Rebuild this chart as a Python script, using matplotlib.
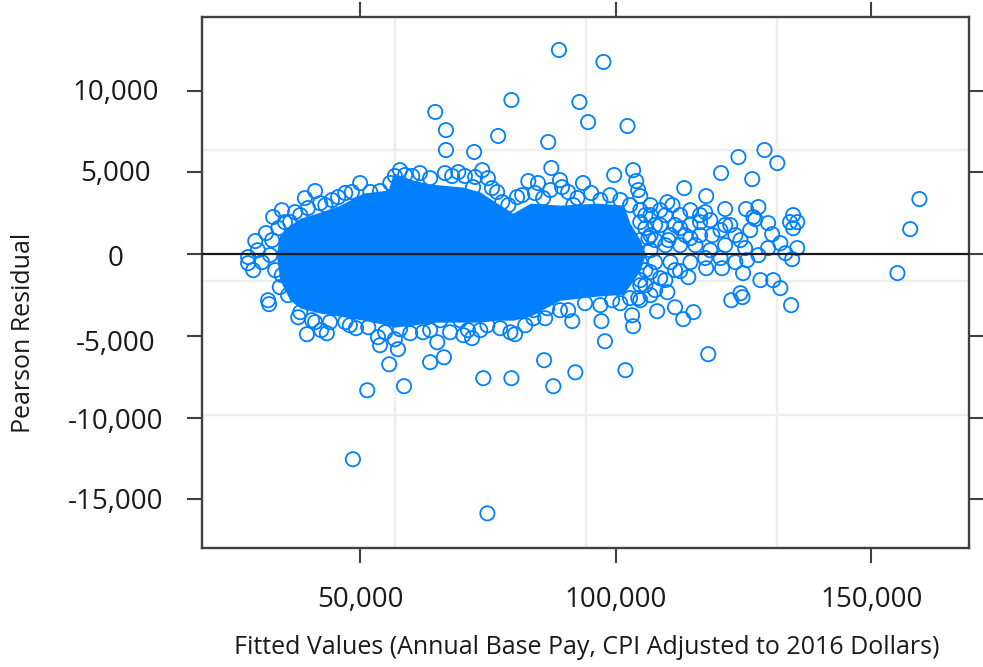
import matplotlib
matplotlib.use("Agg")
import matplotlib.pyplot as plt
from matplotlib.ticker import FixedLocator
from matplotlib.transforms import ScaledTranslation

# thousands of dollars
outlier_fitted = [88.9, 97.6, 79.6, 92.9, 94.6, 102.3, 64.7, 66.8, 66.8, 72.3, 77.0, 86.8, 87.4,
                  129.1, 124.0, 131.6, 120.6, 126.7, 117.7, 113.4, 159.4, 157.6, 155.1,
                  48.6, 74.9, 51.4, 58.6, 55.7, 74.1, 79.6, 86.0, 87.8, 92.1, 101.9, 63.7, 66.4, 118.1]
outlier_resid = [12.49, 11.76, 9.43, 9.31, 8.08, 7.84, 8.70, 7.59, 6.37, 6.25, 7.23, 6.86, 5.27,
                 6.37, 5.94, 5.57, 4.96, 4.59, 3.55, 4.04, 3.37, 1.53, -1.16,
                 -12.55, -15.86, -8.33, -8.08, -6.74, -7.59, -7.59, -6.49, -8.08, -7.23, -7.10, -6.61, -6.31, -6.12]

upper_fitted = [31.6, 33.0, 34.7, 36.3, 38.3, 39.2, 41.2, 43.2, 44.5, 47.1, 50.0, 53.9, 57.8, 58.8,
                61.7, 66.6, 69.2, 73.9, 72.5, 72.1, 75.8, 77.8, 80.7, 82.9, 84.8, 85.8, 89.5, 89.1,
                91.7, 93.6, 95.2, 98.9, 99.7, 103.4, 104.4, 104.0, 104.8,
                35.3, 37.3, 39.8, 42.2, 45.7, 48.4, 52.0, 55.9, 56.8, 60.2, 63.7, 68.0, 70.5, 75.0,
                76.8, 79.0, 81.7, 84.2, 87.2, 90.7, 92.5, 97.0, 100.9, 102.8, 104.8, 106.4]
upper_resid = [1.29, 2.27, 2.69, 1.96, 2.39, 3.43, 3.86, 3.00, 3.31, 3.74, 4.35, 3.86, 5.14, 4.84,
               4.96, 4.96, 5.02, 5.14, 4.72, 4.10, 4.04, 3.18, 3.49, 4.47, 4.35, 3.43, 4.10, 4.53,
               3.00, 4.35, 3.74, 3.61, 4.84, 5.14, 3.92, 4.47, 3.55,
               1.96, 2.57, 2.82, 3.12, 3.49, 3.80, 3.80, 4.35, 4.78, 4.78, 4.65, 4.78, 4.78, 4.65,
               3.80, 3.00, 3.61, 3.74, 3.92, 3.80, 3.43, 3.31, 3.31, 3.00, 1.96, 0.98]

left_fitted = [29.5, 29.1, 28.1, 28.1, 30.0, 30.8, 32.0, 32.2, 34.3, 32.8, 32.4, 33.4, 34.0]
left_resid = [0.80, -0.98, -0.55, -0.18, 0.24, -0.49, -2.82, -3.06, -2.02, 0.86, -0.06, -0.98, 1.59]

lower_fitted = [37.9, 39.6, 43.5, 42.4, 41.2, 49.2, 47.1, 53.5, 53.9, 56.8, 57.4, 57.8, 62.3, 65.1,
                65.7, 63.1, 71.9, 70.2, 71.1, 69.6, 74.9, 80.3, 79.4, 83.9, 83.9, 86.6, 90.7, 91.5,
                97.2, 97.9, 103.4, 103.2, 99.3, 104.4, 108.1, 110.1, 111.6, 115.2, 113.2, 112.6,
                114.2, 117.7, 120.8, 124.9, 128.3, 130.8, 132.2, 124.4, 124.8, 122.6, 134.3,
                34.7, 35.9, 38.3, 40.6, 44.1, 48.0, 51.6, 54.9, 59.8, 63.7, 67.6, 73.5, 77.4, 82.3,
                86.2, 89.1, 94.0, 97.0, 100.9, 102.8, 104.8]
lower_resid = [-3.86, -4.90, -4.84, -4.65, -4.16, -4.53, -4.16, -5.08, -5.57, -5.21, -5.82, -4.59,
               -4.78, -5.39, -4.04, -3.86, -5.14, -4.96, -4.65, -4.04, -4.35, -4.90, -4.78, -3.92,
               -3.43, -3.31, -3.43, -4.10, -4.10, -5.33, -4.41, -3.74, -2.82, -2.69, -3.49, -2.33,
               -3.25, -3.55, -3.98, -1.04, -1.41, -0.86, -0.86, -1.16, -1.59, -1.59, -2.08, -2.39,
               -2.63, -2.82, -3.12,
               -1.29, -2.51, -3.55, -4.04, -4.16, -4.35, -4.47, -4.78, -4.84, -4.65, -4.78, -4.65,
               -4.53, -4.35, -3.92, -3.43, -3.00, -3.12, -3.00, -2.69, -1.59]

right_fitted = [110.1, 121.4, 125.5, 127.9, 126.9, 127.3, 129.8, 134.7, 134.1, 135.5, 134.7, 130.6,
                132.2, 135.5, 129.8, 127.9, 125.7, 134.5, 133.2, 106.8, 108.7, 110.7, 112.6, 114.6,
                116.5, 118.5, 120.5, 123.4, 106.8, 109.7, 112.6, 115.6, 118.5, 121.4, 124.4, 126.3,
                106.8, 104.8, 108.7, 114.6, 117.5, 122.4, 125.3, 111.6, 113.6, 116.5, 107.7, 110.7,
                106.8, 108.7, 114.6, 117.5, 120.5, 123.4, 105.8, 107.7, 104.8, 106.8, 104.8,
                105.8, 107.7, 109.7, 111.1, 105.8, 110.3, 112.6, 114.6, 116.5, 118.9, 121.4, 107.7,
                104.8, 105.8, 104.8, 106.8, 109.7, 111.6]
right_resid = [3.18, 2.76, 2.76, 2.88, 2.27, 2.14, 1.90, 2.39, 1.96, 1.96, 1.59, 1.22,
               0.67, 0.37, 0.37, -0.06, -0.37, -0.31, 0.06, 2.39, 1.78, 1.16, 2.39, 1.78,
               1.16, 2.08, 1.47, 1.16, 1.16, 0.55, 0.55, 0.55, 0.24, 0.55, 0.86, 1.47,
               0.24, 0.86, 2.69, 2.69, 2.57, 1.78, 0.37, 1.78, 1.16, 1.96, -0.49, -0.49,
               -1.10, -1.47, -0.49, -0.24, -0.24, -0.49, -1.90, -2.20, -2.82, 3.00, 2.69,
               2.39, 1.78, 2.39, 3.00, 1.59, 0.86, 1.59, 0.98, 2.39, 1.16, 1.78, 0.86,
               -0.49, -0.98, -1.90, -2.51, -1.59, -0.98]

# extent of the overplotted solid mass
core_fitted = [33.6, 34.3, 36.3, 38.3, 42.2, 46.1, 50.6, 55.5, 56.5, 60.4, 63.7, 70.2, 73.5, 76.8,
               79.9, 83.3, 89.1, 96.4, 101.5, 102.8, 104.8, 105.8]
core_upper = [0.0, 1.16, 1.78, 2.20, 2.57, 3.00, 3.74, 3.92, 4.96, 4.53, 4.29, 4.10, 3.80, 3.12,
              2.51, 3.12, 3.00, 3.12, 3.00, 1.90, 0.86, 0.0]
core_lower = [0.0, -1.59, -2.82, -3.30, -3.61, -3.80, -4.04, -4.35, -4.47, -4.35, -4.16, -4.16,
              -4.16, -4.04, -4.04, -3.80, -2.82, -2.57, -2.45, -1.90, -0.98, 0.0]

grid_x = [56.85, 94.23, 131.6]
grid_y = [6.37, -1.65, -9.86]
x_ticks = [50, 100, 150]
y_ticks = [10, 5, 0, -5, -10, -15]
x_labels = ["50,000", "100,000", "150,000"]
y_labels = ["10,000", "5,000", "0", "-5,000", "-10,000", "-15,000"]

W, H = 983, 667
L, R, T, B = 202, 969, 17, 548
BLUE = "#0080ff"
DARK = "#404040"

plt.rcParams["font.family"] = ["Open Sans", "DejaVu Sans"]
fig = plt.figure(figsize=(W / 100, H / 100), dpi=100)
ax = fig.add_axes([L / W, 1 - B / H, (R - L) / W, (B - T) / H])
ax.set_xlim(19.08, 169.1)
ax.set_ylim(-17.98, 14.51)

for g in grid_x:
    ax.axvline(g, color="#eeeeee", lw=1.7, zorder=1)
for g in grid_y:
    ax.axhline(g, color="#eeeeee", lw=1.7, zorder=1)

ax.fill_between(core_fitted, core_lower, core_upper, color=BLUE, lw=0, zorder=2)
for xs, ys in [(outlier_fitted, outlier_resid), (upper_fitted, upper_resid), (left_fitted, left_resid),
               (lower_fitted, lower_resid), (right_fitted, right_resid)]:
    ax.scatter(xs, ys, s=105, facecolors="none", edgecolors=BLUE, linewidths=1.3, zorder=3)

ax.axhline(0, color="#1a1a1a", lw=1.6, zorder=4)

for s in ax.spines.values():
    s.set_color(DARK)
    s.set_linewidth(1.7)

ax.xaxis.set_major_locator(FixedLocator(x_ticks))
ax.yaxis.set_major_locator(FixedLocator(y_ticks))
ax.set_xticklabels(x_labels)
ax.set_yticklabels(y_labels)
ax.tick_params(axis="both", which="major", length=10.5, width=1.5, color=DARK,
               top=True, right=True, labelsize=20, labelcolor="#1a1a1a")
ax.tick_params(axis="x", pad=17)
ax.tick_params(axis="y", pad=52)
for t in ax.yaxis.get_major_ticks():
    t.label1.set_ha("center")
y_shift = [1, 2, -1, -5, -1, 1]
for t, d in zip(ax.yaxis.get_major_ticks(), y_shift):
    t.label1.set_transform(t.label1.get_transform()
                           + ScaledTranslation(0, d / 100, fig.dpi_scale_trans))

fig.text(587 / W, 1 - 647 / H, "Fitted Values (Annual Base Pay, CPI Adjusted to 2016 Dollars)",
         ha="center", va="center", fontsize=18, color="#1a1a1a")
fig.text(24 / W, 1 - 333 / H, "Pearson Residual", rotation=90, ha="center", va="center",
         fontsize=18, color="#1a1a1a")

fig.savefig("out.png", dpi=100)
